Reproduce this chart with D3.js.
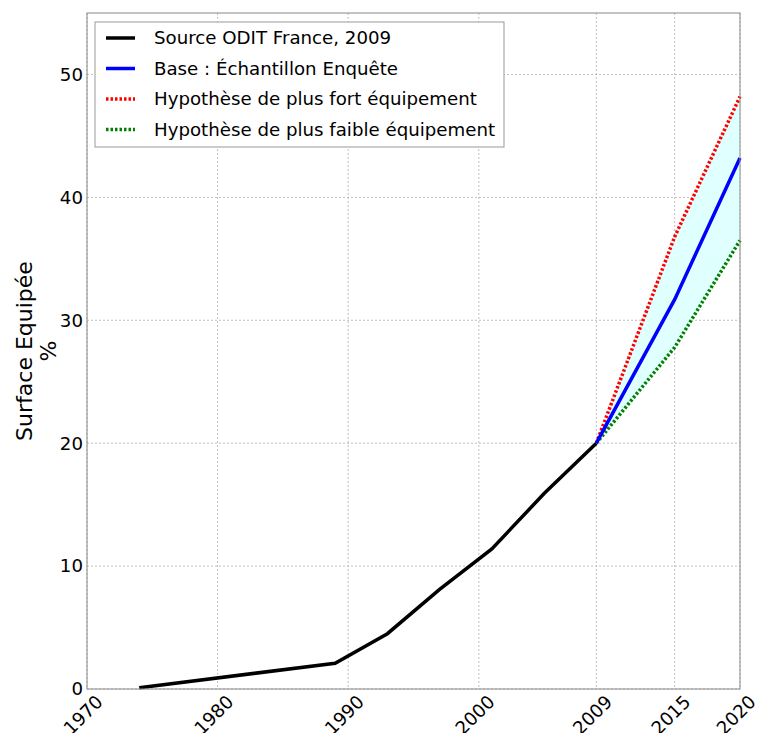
<!DOCTYPE html>
<html>
<head>
<meta charset="utf-8">
<script src="https://cdn.jsdelivr.net/npm/d3@7"></script>
<style>
  body { margin: 0; background: #fff; }
  text { font-family: "DejaVu Sans", sans-serif; fill: #000; }
</style>
</head>
<body>
<svg id="chart" width="760" height="733"></svg>
<script>
// ---- data ----
const histYears  = [1974, 1989, 1993, 1997, 2001, 2005, 2009];
const histValues = [0.1, 2.1, 4.5, 8.1, 11.4, 15.9, 20.0];
const projYears  = [2009, 2015, 2020];
const baseValues = [20.0, 31.7, 43.2];
const highValues = [20.0, 36.8, 48.2];
const lowValues  = [20.0, 27.8, 36.5];
const xTicks = [1970, 1980, 1990, 2000, 2009, 2015, 2020];
const yTicks = [0, 10, 20, 30, 40, 50];
const legendLabels = [
  "Source ODIT France, 2009",
  "Base : Échantillon Enquête",
  "Hypothèse de plus fort équipement",
  "Hypothèse de plus faible équipement"
];

// ---- layout ----
const L = 87, R = 740, T = 13, B = 689;
const svg = d3.select("#chart");
const x = d3.scaleLinear().domain([1970, 2020]).range([L, R]);
const y = d3.scaleLinear().domain([0, 55]).range([B, T]);

// grid
const grid = svg.append("g");
grid.selectAll(".vg").data(xTicks).enter().append("line")
  .attr("x1", d => x(d)).attr("x2", d => x(d)).attr("y1", T).attr("y2", B)
  .attr("stroke", "#b0b0b0").attr("stroke-width", 0.8).attr("stroke-dasharray", "2,2");
grid.selectAll(".hg").data(yTicks).enter().append("line")
  .attr("x1", L).attr("x2", R).attr("y1", d => y(d)).attr("y2", d => y(d))
  .attr("stroke", "#b0b0b0").attr("stroke-width", 0.8).attr("stroke-dasharray", "2,2");

// fill between
const hi = projYears.map((yr, i) => ({yr, hi: highValues[i], lo: lowValues[i]}));
svg.append("path").datum(hi)
  .attr("d", d3.area().x(d => x(d.yr)).y0(d => y(d.lo)).y1(d => y(d.hi)))
  .attr("fill", "#e0ffff");

const line = d3.line().x(d => x(d[0])).y(d => y(d[1]));
svg.append("path").datum(histYears.map((yr, i) => [yr, histValues[i]]))
  .attr("d", line).attr("fill", "none").attr("stroke", "#000").attr("stroke-width", 3.5);
svg.append("path").datum(projYears.map((yr, i) => [yr, highValues[i]]))
  .attr("d", line).attr("fill", "none").attr("stroke", "#ff0000").attr("stroke-width", 3.5)
  .attr("stroke-dasharray", "2.5,2");
svg.append("path").datum(projYears.map((yr, i) => [yr, lowValues[i]]))
  .attr("d", line).attr("fill", "none").attr("stroke", "#008000").attr("stroke-width", 3.5)
  .attr("stroke-dasharray", "2.5,2");
svg.append("path").datum(projYears.map((yr, i) => [yr, baseValues[i]]))
  .attr("d", line).attr("fill", "none").attr("stroke", "#0000ff").attr("stroke-width", 3.5);

// frame
svg.append("rect").attr("x", L).attr("y", T).attr("width", R - L).attr("height", B - T)
  .attr("fill", "none").attr("stroke", "#888").attr("stroke-width", 1);

// y ticks
svg.selectAll(".yt").data(yTicks).enter().append("text")
  .attr("x", L - 4).attr("y", d => y(d)).attr("dy", "0.35em")
  .attr("text-anchor", "end").attr("font-size", 18.2).text(d => d);

// x ticks rotated
svg.selectAll(".xt").data(xTicks).enter().append("text")
  .attr("transform", d => `translate(${x(d) + 8},${B + 5}) rotate(-45)`)
  .attr("text-anchor", "end").attr("dy", "0.7em").attr("font-size", 18.2).text(d => d);

// y label
const yl = svg.append("text").attr("transform", "translate(32,351) rotate(-90)")
  .attr("text-anchor", "middle").attr("font-size", 22);
yl.append("tspan").attr("x", 0).attr("dy", 0).text("Surface Equipée");
yl.append("tspan").attr("x", 0).attr("dy", 24).text("%");

// legend
const lg = svg.append("g");
lg.append("rect").attr("x", 95).attr("y", 22).attr("width", 409).attr("height", 125)
  .attr("fill", "#fff").attr("stroke", "#999").attr("stroke-width", 1);
const lcolors = ["#000", "#0000ff", "#ff0000", "#008000"];
const ldash = [null, null, "2.5,2", "2.5,2"];
legendLabels.forEach((lab, i) => {
  const yy = 38 + i * 30.5;
  lg.append("line").attr("x1", 106).attr("x2", 135).attr("y1", yy).attr("y2", yy)
    .attr("stroke", lcolors[i]).attr("stroke-width", 3.5)
    .attr("stroke-dasharray", ldash[i]);
  lg.append("text").attr("x", 154).attr("y", yy).attr("dy", "0.35em")
    .attr("font-size", 18.2).text(lab);
});
</script>
</body>
</html>
